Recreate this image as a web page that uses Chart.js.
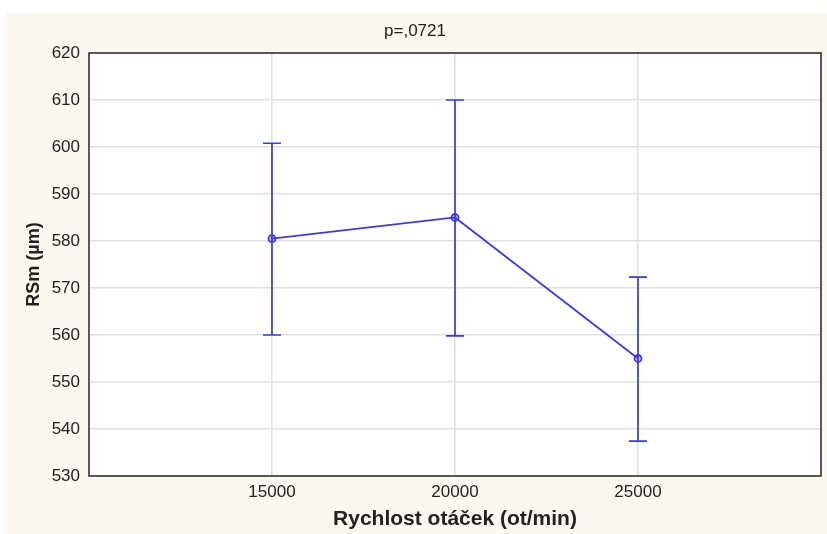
<!DOCTYPE html>
<html>
<head>
<meta charset="utf-8">
<script src="https://cdn.jsdelivr.net/npm/chart.js@4.4.1/dist/chart.umd.min.js"></script>
<style>
  body { margin: 0; background: #ffffff; }
  #wrap {
    position: absolute;
    left: 6px;
    top: 13px;
    width: 821px;
    height: 521px;
    background: #fbf8f1;
  }
</style>
</head>
<body>
<div id="wrap"><canvas id="chart"></canvas></div>
<script>
// rychlost otáček (ot/min)
var speeds = [15000, 20000, 25000];
// průměr RSm a meze chybových úseček
var means = [580.5, 585, 555];
var upper = [600.8, 610, 572.3];
var lower = [560, 559.8, 537.4];
var xTicks = [15000, 20000, 25000];

var textColor = "#222222";
var lineColor = "#3a3adf";
var fontFamily = "Liberation Sans, Arial, sans-serif";

// bílé pozadí grafu + rámeček
var plotFrame = {
  id: "plotFrame",
  beforeDraw: function (chart) {
    var a = chart.chartArea;
    var ctx = chart.ctx;
    ctx.save();
    ctx.fillStyle = "#ffffff";
    ctx.fillRect(a.left, a.top, a.right - a.left, a.bottom - a.top);
    ctx.restore();
  },
  afterDraw: function (chart) {
    var a = chart.chartArea;
    var ctx = chart.ctx;
    ctx.save();
    ctx.strokeStyle = "#2a2a2a";
    ctx.lineWidth = 1.5;
    ctx.strokeRect(a.left, a.top, a.right - a.left, a.bottom - a.top);
    ctx.restore();
  },
};

// chybové úsečky
var errorBars = {
  id: "errorBars",
  afterDatasetsDraw: function (chart) {
    var xs = chart.scales.x;
    var ys = chart.scales.y;
    var ctx = chart.ctx;
    ctx.save();
    ctx.strokeStyle = lineColor;
    ctx.lineWidth = 1.7;
    for (var i = 0; i < speeds.length; i++) {
      var x = xs.getPixelForValue(speeds[i]);
      var yt = ys.getPixelForValue(upper[i]);
      var yb = ys.getPixelForValue(lower[i]);
      ctx.beginPath();
      ctx.moveTo(x, yt);
      ctx.lineTo(x, yb);
      ctx.moveTo(x - 9, yt);
      ctx.lineTo(x + 9, yt);
      ctx.moveTo(x - 9, yb);
      ctx.lineTo(x + 9, yb);
      ctx.stroke();
    }
    ctx.restore();
  },
};

var points = speeds.map(function (s, i) {
  return { x: s, y: means[i] };
});

var ctx = document.getElementById("chart").getContext("2d");
var chart = new Chart(ctx, {
  type: "line",
  data: {
    datasets: [
      {
        label: "RSm",
        data: points,
        borderColor: lineColor,
        borderWidth: 1.7,
        backgroundColor: "rgba(90, 90, 235, 0.35)",
        pointRadius: 3.5,
        pointBorderWidth: 1.8,
        pointBorderColor: lineColor,
        tension: 0,
      },
    ],
  },
  options: {
    responsive: true,
    maintainAspectRatio: false,
    animation: false,
    layout: { padding: { left: 0, right: 3, top: 0, bottom: 0 } },
    plugins: {
      legend: { display: false },
      tooltip: { enabled: false },
      title: {
        display: true,
        text: "p=,0721",
        color: textColor,
        font: { family: fontFamily, size: 17, weight: "normal", lineHeight: 1.2 },
        padding: { top: 8, bottom: 11.6 },
      },
    },
    scales: {
      x: {
        type: "linear",
        min: 10000,
        max: 30000,
        afterBuildTicks: function (scale) {
          scale.ticks = [10000].concat(xTicks, [30000]).map(function (v) {
            return { value: v };
          });
        },
        afterFit: function (scale) {
          scale.height = 58;
        },
        grid: { color: "#e0e0e0", lineWidth: 1.6, drawTicks: false },
        border: { display: false },
        ticks: {
          color: textColor,
          padding: 6,
          maxRotation: 0,
          font: { family: fontFamily, size: 17 },
          callback: function (v) {
            return xTicks.indexOf(v) >= 0 ? String(v) : "";
          },
        },
        title: {
          display: true,
          text: "Rychlost otáček (ot/min)",
          color: textColor,
          font: { family: fontFamily, size: 21, weight: "bold", lineHeight: 1.2 },
          padding: { top: 0, bottom: 2 },
        },
      },
      y: {
        min: 530,
        max: 620,
        afterFit: function (scale) {
          scale.width = 83;
        },
        grid: { color: "#e0e0e0", lineWidth: 1.6, drawTicks: false },
        border: { display: false },
        ticks: {
          stepSize: 10,
          color: textColor,
          padding: 9,
          font: { family: fontFamily, size: 17 },
        },
        title: {
          display: true,
          text: "RSm (µm)",
          color: textColor,
          font: { family: fontFamily, size: 18, weight: "bold", lineHeight: 1.2 },
          padding: { top: 17, bottom: 0 },
        },
      },
    },
  },
  plugins: [plotFrame, errorBars],
});
</script>
</body>
</html>
